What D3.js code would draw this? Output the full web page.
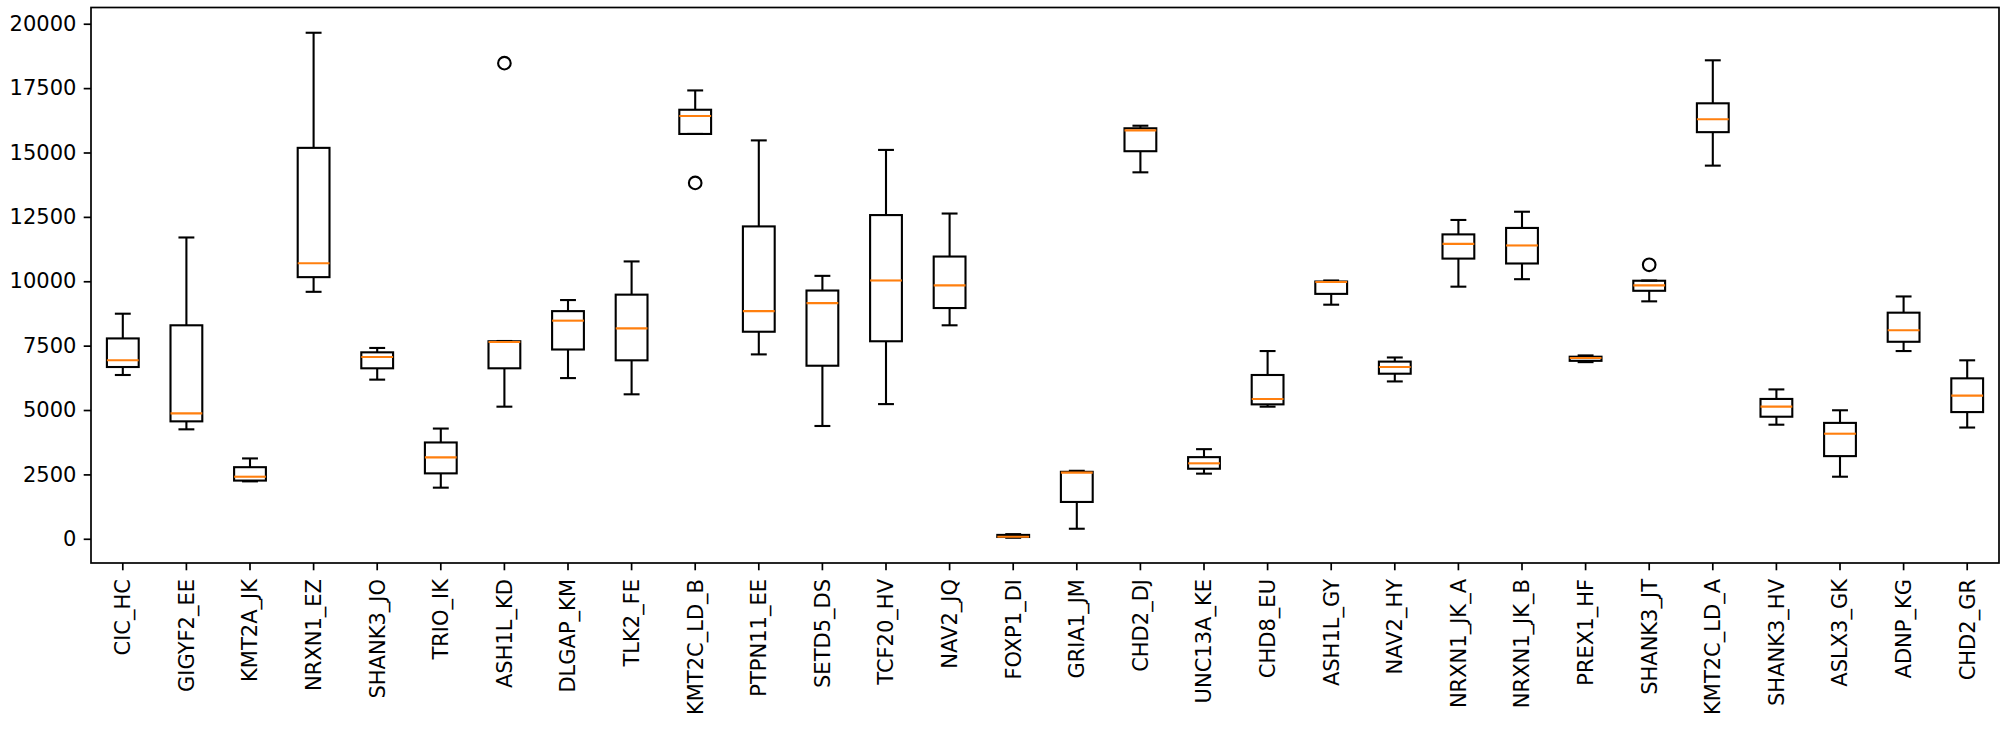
<!DOCTYPE html>
<html>
<head>
<meta charset="utf-8">
<script src="https://cdn.jsdelivr.net/npm/d3@7"></script>
<style>
  html, body { margin: 0; padding: 0; background: #fff; }
  svg { display: block; }
  text { font-family: "DejaVu Sans", sans-serif; fill: #000; }
</style>
</head>
<body>
<svg id="chart" width="2007" height="730"></svg>
<script>
const categories = ["CIC_HC","GIGYF2_EE","KMT2A_JK","NRXN1_EZ","SHANK3_JO","TRIO_IK","ASH1L_KD","DLGAP_KM","TLK2_FE","KMT2C_LD_B","PTPN11_EE","SETD5_DS","TCF20_HV","NAV2_JQ","FOXP1_DI","GRIA1_JM","CHD2_DJ","UNC13A_KE","CHD8_EU","ASH1L_GY","NAV2_HY","NRXN1_JK_A","NRXN1_JK_B","PREX1_HF","SHANK3_JT","KMT2C_LD_A","SHANK3_HV","ASLX3_GK","ADNP_KG","CHD2_GR"];
const whiskerLow  = [6360,4250,2230,9590,6180,1985,5130,6240,5610,15720,7160,4380,5230,8290,40,390,14230,2530,5130,9090,6110,9790,10080,6860,9220,14490,4430,2410,7290,4320];
const q1Values    = [6670,4560,2260,10160,6620,2540,6620,7350,6930,15720,8040,6720,7670,8960,70,1430,15050,2720,5220,9510,6410,10880,10690,6910,9630,15790,4740,3210,7650,4920];
const medians     = [6930,4870,2410,10700,7060,3160,7640,8470,8170,16420,8840,9150,10030,9840,80,2570,15860,2930,5430,9970,6670,11450,11390,7020,9840,16290,5130,4080,8100,5560];
const q3Values    = [7780,8290,2780,15180,7240,3740,7670,8840,9480,16660,12130,9640,12570,10960,150,2600,15940,3170,6360,9990,6880,11820,12070,7070,10020,16910,5430,4500,8780,6230];
const whiskerHigh = [8740,11700,3120,19650,7410,4280,7680,9270,10770,17410,15470,10210,15100,12630,180,2640,16040,3480,7290,10030,7040,12380,12700,7120,10030,18580,5800,4990,9410,6930];
const outliers    = [[],[],[],[],[],[],[18470],[],[],[13820],[],[],[],[],[],[],[],[],[],[],[],[],[],[],[10640],[],[],[],[],[]];
const yTicks = [0,2500,5000,7500,10000,12500,15000,17500,20000];

const W = 2007, H = 730;
const plot = {left: 91, right: 1999, top: 7.5, bottom: 563};
const svg = d3.select("#chart");

const rows = categories.map((c, i) => ({
  cat: c, lo: whiskerLow[i], q1: q1Values[i], med: medians[i], q3: q3Values[i], hi: whiskerHigh[i], out: outliers[i]
}));

const allVals = rows.flatMap(r => [r.lo, r.hi, ...r.out]);
const vmin = d3.min(allVals), vmax = d3.max(allVals);
const pad = (vmax - vmin) * 0.05;

const x = d3.scaleBand().domain(categories).range([plot.left, plot.right]).paddingInner(0).paddingOuter(0);
const y = d3.scaleLinear().domain([vmin - pad, vmax + pad]).range([plot.bottom, plot.top]);

const boxW = x.bandwidth() * 0.5;
const capW = boxW * 0.5;
const lw = 2.1;

const g = svg.append("g");
const boxes = g.selectAll("g.box").data(rows).enter().append("g").attr("class", "box")
  .attr("transform", d => `translate(${x(d.cat) + x.bandwidth() / 2},0)`);

// whiskers
boxes.append("line").attr("x1", 0).attr("x2", 0).attr("y1", d => y(d.q1)).attr("y2", d => y(d.lo))
  .attr("stroke", "#000").attr("stroke-width", lw);
boxes.append("line").attr("x1", 0).attr("x2", 0).attr("y1", d => y(d.q3)).attr("y2", d => y(d.hi))
  .attr("stroke", "#000").attr("stroke-width", lw);
// caps
boxes.append("line").attr("x1", -capW / 2).attr("x2", capW / 2).attr("y1", d => y(d.lo)).attr("y2", d => y(d.lo))
  .attr("stroke", "#000").attr("stroke-width", lw);
boxes.append("line").attr("x1", -capW / 2).attr("x2", capW / 2).attr("y1", d => y(d.hi)).attr("y2", d => y(d.hi))
  .attr("stroke", "#000").attr("stroke-width", lw);
// box
boxes.append("rect").attr("x", -boxW / 2).attr("width", boxW)
  .attr("y", d => y(d.q3)).attr("height", d => Math.max(0.5, y(d.q1) - y(d.q3)))
  .attr("fill", "none").attr("stroke", "#000").attr("stroke-width", lw);
// median
boxes.append("line").attr("x1", -boxW / 2).attr("x2", boxW / 2).attr("y1", d => y(d.med)).attr("y2", d => y(d.med))
  .attr("stroke", "#ff7f0e").attr("stroke-width", lw);
// outliers
boxes.selectAll("circle").data(d => d.out).enter().append("circle")
  .attr("cx", 0).attr("cy", v => y(v)).attr("r", 6.3)
  .attr("fill", "none").attr("stroke", "#000").attr("stroke-width", lw);

// axes frame
svg.append("rect").attr("x", plot.left).attr("y", plot.top)
  .attr("width", plot.right - plot.left).attr("height", plot.bottom - plot.top)
  .attr("fill", "none").attr("stroke", "#000").attr("stroke-width", 1.7);

// y axis
const yAxis = d3.axisLeft(y).tickValues(yTicks).tickSize(7.3).tickPadding(7.3).tickFormat(d3.format("d"));
const yg = svg.append("g").attr("transform", `translate(${plot.left},0)`).call(yAxis);
yg.select(".domain").remove();
yg.selectAll(".tick line").attr("stroke", "#000").attr("stroke-width", 1.7);
yg.selectAll(".tick text").attr("font-size", 21).attr("font-family", "DejaVu Sans").attr("fill", "#000");

// x axis
const xAxis = d3.axisBottom(x).tickSize(7.3).tickPadding(7.3);
const xg = svg.append("g").attr("transform", `translate(0,${plot.bottom})`).call(xAxis);
xg.select(".domain").remove();
xg.selectAll(".tick line").attr("stroke", "#000").attr("stroke-width", 1.7);
xg.selectAll(".tick text")
  .attr("font-size", 21).attr("font-family", "DejaVu Sans").attr("fill", "#000")
  .attr("transform", "rotate(-90)")
  .attr("text-anchor", "end")
  .attr("x", -16).attr("y", 0).attr("dy", "0.35em");
</script>
</body>
</html>
